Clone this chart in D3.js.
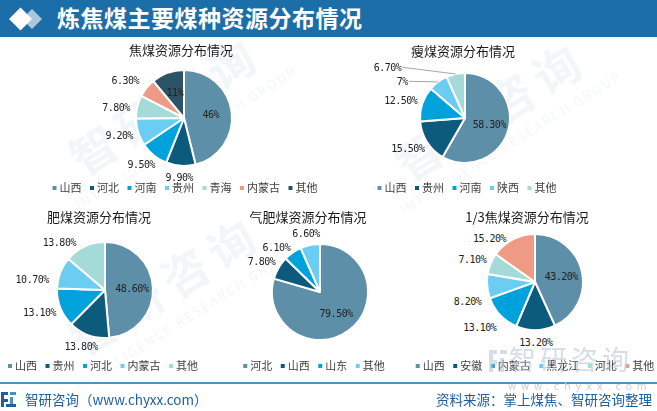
<!DOCTYPE html>
<html><head><meta charset="utf-8">
<script src="https://cdn.jsdelivr.net/npm/d3@7/dist/d3.min.js"></script>
<style>body{margin:0;background:#fff}svg{display:block}</style>
</head><body><svg id="c" width="657" height="411"></svg>
<script>
// ---------- data ----------
const mainTitle = "炼焦煤主要煤种资源分布情况";
const brandText = "智研咨询（www.chyxx.com）";
const sourceText = "资料来源：掌上煤焦、智研咨询整理";

const c1Title = "焦煤资源分布情况";
const c1Categories = ["山西","河北","河南","贵州","青海","内蒙古","其他"];
const c1Values = [46, 9.9, 9.5, 9.2, 7.8, 6.3, 11];

const c2Title = "瘦煤资源分布情况";
const c2Categories = ["山西","贵州","河南","陕西","其他"];
const c2Values = [58.3, 15.5, 12.5, 7, 6.7];

const c3Title = "肥煤资源分布情况";
const c3Categories = ["山西","贵州","河北","内蒙古","其他"];
const c3Values = [48.6, 13.8, 13.1, 10.7, 13.8];

const c4Title = "气肥煤资源分布情况";
const c4Categories = ["河北","山西","山东","其他"];
const c4Values = [79.5, 7.8, 6.1, 6.6];

const c5Title = "1/3焦煤资源分布情况";
const c5Categories = ["山西","安徽","内蒙古","黑龙江","河北","其他"];
const c5Values = [43.2, 13.2, 13.1, 8.2, 7.1, 15.2];

// ---------- style / layout ----------
const palette = ["#5d8fa9","#0c5a7c","#00a2dc","#6ccdf2","#a4dbd8","#ef9a85","#2d5366"];
const charts = [
  {title:c1Title, cats:c1Categories, vals:c1Values, titleX:181, titleY:50, cx:184, cy:118, r:48, legendX:185, legendY:188,
   inside:["山西","其他"], nudge:{"内蒙古":[-6,0],"青海":[-2,3]}, leader:[]},
  {title:c2Title, cats:c2Categories, vals:c2Values, titleX:463, titleY:51, cx:465, cy:118, r:45, legendX:467, legendY:188,
   inside:["山西"], nudge:{"陕西":[-29,9],"其他":[-64,5]}, leader:["陕西","其他"]},
  {title:c3Title, cats:c3Categories, vals:c3Values, titleX:99, titleY:217, cx:105, cy:290, r:48, legendX:103, legendY:366,
   inside:["山西"], nudge:{"内蒙古":[-7,11],"其他":[-16,7]}, leader:[]},
  {title:c4Title, cats:c4Categories, vals:c4Values, titleX:308, titleY:217, cx:320, cy:292, r:48, legendX:314, legendY:366,
   inside:["河北"], nudge:{"山东":[-5,5]}, leader:[]},
  {title:c5Title, cats:c5Categories, vals:c5Values, titleX:527, titleY:217, cx:535, cy:282, r:48, legendX:535, legendY:366,
   inside:["山西"], nudge:{"黑龙江":[0,14],"其他":[-13,10],"内蒙古":[-4,4]}, leader:[]}
];

const CJK = "'Noto Sans CJK SC','Noto Sans',sans-serif";
const NUM = "'DejaVu Sans Mono','Liberation Mono',monospace";
const svg = d3.select("#c");

// ---------- watermarks (faint) ----------
const wm = svg.append("g").attr("fill","#e4ebf2").attr("opacity",0.45).attr("font-family",CJK);
[[175,120],[500,125],[175,300]].forEach(([x,y])=>{
  const g = wm.append("g").attr("transform",`translate(${x},${y}) rotate(-32)`);
  g.append("text").attr("text-anchor","middle").attr("font-size",46).attr("font-weight","bold").attr("letter-spacing",8).text("智研咨询");
  g.append("text").attr("text-anchor","middle").attr("y",26).attr("font-size",13).attr("letter-spacing",2).text("INTELLIGENCE RESEARCH GROUP");
});

// ---------- header ----------
svg.append("rect").attr("x",0).attr("y",0).attr("width",657).attr("height",37).attr("fill","#1b6ea8");
svg.append("path").attr("d","M22,19 L32,9 L42,19 L32,29 Z").attr("fill","#a9c8e0");
svg.append("path").attr("d","M9,19 L20.5,7.5 L32,19 L20.5,30.5 Z").attr("fill","#ffffff");
svg.append("text").attr("x",57).attr("y",19).attr("dy","0.36em").attr("fill","#fff")
  .attr("font-family",CJK).attr("font-weight","bold").attr("font-size",23).attr("letter-spacing",0.5).text(mainTitle);

// ---------- charts ----------
const fmt = v => Number.isInteger(v) ? v + "%" : v.toFixed(2) + "%";

charts.forEach(ch => {
  const data = ch.cats.map((c,i)=>({cat:c, val:ch.vals[i], color:palette[i]}));
  const pie = d3.pie().sort(null).value(d=>d.val);
  const arcs = pie(data);
  const arc = d3.arc().innerRadius(0).outerRadius(ch.r);
  const g = svg.append("g").attr("transform",`translate(${ch.cx},${ch.cy})`);

  svg.append("text").attr("x",ch.titleX).attr("y",ch.titleY).attr("dy","0.36em").attr("text-anchor","middle")
    .attr("font-family",CJK).attr("font-size",13).attr("fill","#1a1a1a").text(ch.title);

  g.selectAll("path").data(arcs).join("path")
    .attr("d",arc).attr("fill",d=>d.data.color).attr("stroke","#fff").attr("stroke-width",2).attr("stroke-linejoin","round");

  arcs.forEach(a => {
    const mid = (a.startAngle + a.endAngle)/2;
    const dx = Math.sin(mid), dy = -Math.cos(mid);
    const t = g.append("text").attr("font-family",NUM).attr("font-size",10).attr("letter-spacing",-0.5)
      .attr("fill","#222").attr("text-anchor","middle").attr("dy","0.36em").text(fmt(a.data.val));
    let x, y;
    if (ch.inside.includes(a.data.cat)) {
      x = dx * ch.r * 0.56; y = dy * ch.r * 0.56;
    } else {
      const w = t.node().getComputedTextLength(), h = 12, R = ch.r + 6;
      x = R*dx + dx*w/2; y = R*dy + dy*h/2;
      const n = ch.nudge[a.data.cat];
      if (n) { x += n[0]; y += n[1]; }
      if (ch.leader.includes(a.data.cat)) {
        g.insert("line","text").attr("x1",x + w/2 + 1).attr("y1",y).attr("x2",dx*ch.r).attr("y2",dy*ch.r)
          .attr("stroke","#a6a6a6").attr("stroke-width",1);
      }
    }
    t.attr("x",x).attr("y",y);
  });

  // legend
  const lg = svg.append("g");
  const items = data.map(d => {
    const it = lg.append("g");
    it.append("rect").attr("width",4).attr("height",4).attr("y",-2).attr("fill",d.color);
    const tx = it.append("text").attr("x",7).attr("dy","0.36em").attr("font-family",CJK).attr("font-size",11)
      .attr("fill","#404040").text(d.cat);
    return {it, w: 7 + tx.node().getComputedTextLength()};
  });
  const gap = 8.5;
  const total = d3.sum(items, d=>d.w) + gap*(items.length-1);
  let px = ch.legendX - total/2;
  items.forEach(d => { d.it.attr("transform",`translate(${px},${ch.legendY})`); px += d.w + gap; });
});

// ---------- bottom-right watermark (drawn over, semi-transparent) ----------
const br = svg.append("g").attr("fill","#b9c7d6").attr("opacity",0.6);
br.append("rect").attr("x",489).attr("y",350).attr("width",8).attr("height",4);
br.append("rect").attr("x",489).attr("y",350).attr("width",4).attr("height",22);
br.append("rect").attr("x",489).attr("y",360).attr("width",8).attr("height",4);
br.append("rect").attr("x",500).attr("y",350).attr("width",7).attr("height",4);
br.append("rect").attr("x",500).attr("y",358).attr("width",4).attr("height",14);
br.append("text").attr("x",509).attr("y",360).attr("dy","0.36em").attr("font-family",CJK).attr("font-size",27)
  .attr("letter-spacing",4).text("智研咨询");

// ---------- footer ----------
svg.append("line").attr("x1",0).attr("x2",657).attr("y1",383).attr("y2",383).attr("stroke","#1b6ea8").attr("stroke-width",1.5);
svg.append("text").attr("x",508).attr("y",386).attr("dy","0.36em").attr("font-family","'DejaVu Sans',sans-serif")
  .attr("font-size",10).attr("letter-spacing",4.8).attr("fill","#d0d0d0").text("www.chyxx.com");
const logo = svg.append("g").attr("fill","#1f5fa0");
logo.append("rect").attr("x",1).attr("y",392).attr("width",7).attr("height",3);
logo.append("rect").attr("x",1).attr("y",392).attr("width",3).attr("height",15);
logo.append("rect").attr("x",1).attr("y",399).attr("width",7).attr("height",3);
logo.append("rect").attr("x",10).attr("y",392).attr("width",6).attr("height",3).attr("fill","#4a90c8");
logo.append("rect").attr("x",10).attr("y",397).attr("width",3).attr("height",10).attr("fill","#4a90c8");
logo.append("rect").attr("x",6).attr("y",404).attr("width",10).attr("height",3);
svg.append("text").attr("x",25).attr("y",400).attr("dy","0.36em").attr("font-family",CJK).attr("font-size",13.5)
  .attr("fill","#1f5fa0").text(brandText);
svg.append("text").attr("x",652).attr("y",400).attr("dy","0.36em").attr("text-anchor","end").attr("font-family",CJK)
  .attr("font-size",13.5).attr("fill","#1f5fa0").text(sourceText);
</script></body></html>
